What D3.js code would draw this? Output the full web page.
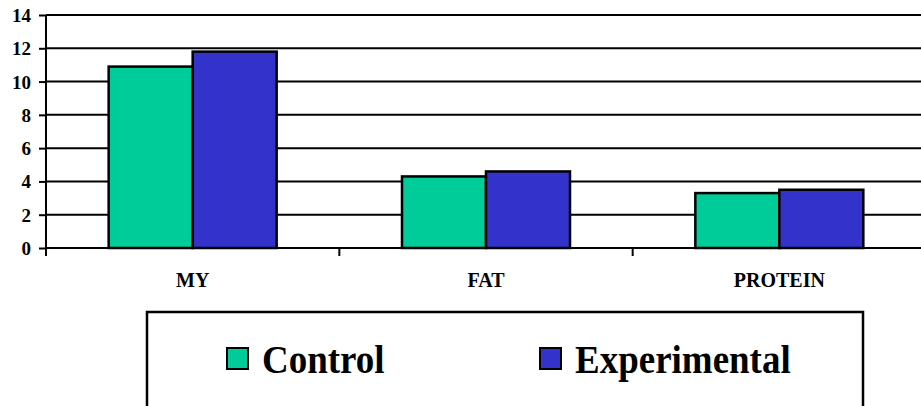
<!DOCTYPE html>
<html>
<head>
<meta charset="utf-8">
<script src="https://cdn.jsdelivr.net/npm/d3@7"></script>
</head>
<body style="margin:0;background:#fff">
<svg id="chart" width="921" height="406"></svg>
<script>
// Data
const categories = ["MY", "FAT", "PROTEIN"];
const seriesNames = ["Control", "Experimental"];
const controlValues = [10.9, 4.3, 3.3];
const experimentalValues = [11.8, 4.6, 3.5];
const yTicks = [0, 2, 4, 6, 8, 10, 12, 14];
const seriesColors = ["#00CC99", "#3333CC"];

const FONT = "'Liberation Serif', 'Times New Roman', serif";

const svg = d3.select("#chart");
const plot = { left: 46, right: 926, top: 15, bottom: 248 };

const x = d3.scaleBand().domain(categories).range([plot.left, plot.right]).padding(0);
const barW = 84;
const xs = d3.scaleBand().domain(seriesNames)
  .range([x.bandwidth() / 2 - barW, x.bandwidth() / 2 + barW]).padding(0);
const y = d3.scaleLinear().domain([0, 14]).range([plot.bottom, plot.top]);

// Horizontal gridlines
svg.append("g").selectAll("line").data(yTicks.filter(d => d > 0)).join("line")
  .attr("x1", plot.left).attr("x2", 921)
  .attr("y1", d => y(d)).attr("y2", d => y(d))
  .attr("stroke", "#000").attr("stroke-width", 2);

// Bars
const rows = categories.map((c, i) => ({ cat: c, vals: [controlValues[i], experimentalValues[i]] }));
const groups = svg.append("g").selectAll("g").data(rows).join("g")
  .attr("transform", d => `translate(${x(d.cat)},0)`);
groups.selectAll("rect")
  .data(d => d.vals.map((v, j) => ({ name: seriesNames[j], v, color: seriesColors[j] })))
  .join("rect")
  .attr("x", d => xs(d.name))
  .attr("width", xs.bandwidth())
  .attr("y", d => y(d.v))
  .attr("height", d => y(0) - y(d.v))
  .attr("fill", d => d.color)
  .attr("stroke", "#000").attr("stroke-width", 2.5);

// Y axis
const yAxis = svg.append("g").attr("transform", `translate(${plot.left},0)`)
  .call(d3.axisLeft(y).tickValues(yTicks).tickSize(7).tickPadding(8).tickFormat(d3.format("d")));
yAxis.attr("font-family", FONT).attr("font-size", 19).attr("font-weight", "bold");
yAxis.select(".domain").remove();
yAxis.selectAll(".tick line").attr("stroke", "#000").attr("stroke-width", 2);
yAxis.selectAll(".tick text")
  .style("font-family", FONT).style("font-weight", "bold").style("font-size", "19px")
  .attr("fill", "#000").attr("dy", "0.34em");
svg.append("line")
  .attr("x1", plot.left).attr("x2", plot.left)
  .attr("y1", plot.top).attr("y2", plot.bottom + 8)
  .attr("stroke", "#000").attr("stroke-width", 2);

// X axis
svg.append("line")
  .attr("x1", plot.left).attr("x2", 921)
  .attr("y1", plot.bottom).attr("y2", plot.bottom)
  .attr("stroke", "#000").attr("stroke-width", 2);
const xAxis = svg.append("g").attr("transform", `translate(0,${plot.bottom})`)
  .call(d3.axisBottom(x).tickSize(0).tickPadding(0));
xAxis.attr("font-family", FONT).attr("font-size", 20).attr("font-weight", "bold");
xAxis.select(".domain").remove();
xAxis.selectAll(".tick text").attr("y", 39).attr("dy", 0)
  .style("font-family", FONT).style("font-weight", "bold").style("font-size", "20px")
  .attr("fill", "#000");
svg.append("g").selectAll("line").data(categories.slice(1)).join("line")
  .attr("x1", d => x(d)).attr("x2", d => x(d))
  .attr("y1", plot.bottom).attr("y2", plot.bottom + 8)
  .attr("stroke", "#000").attr("stroke-width", 2);

// Legend
svg.append("rect")
  .attr("x", 147).attr("y", 312).attr("width", 716).attr("height", 120)
  .attr("fill", "none").attr("stroke", "#000").attr("stroke-width", 2.5);
const legendX = [227, 540];
const legend = svg.append("g").selectAll("g").data(seriesNames).join("g")
  .attr("transform", (d, i) => `translate(${legendX[i]},348)`);
legend.append("rect")
  .attr("width", 21).attr("height", 21)
  .attr("fill", (d, i) => seriesColors[i])
  .attr("stroke", "#000").attr("stroke-width", 2);
legend.append("text")
  .attr("transform", "translate(35,25) scale(1,1.1)")
  .style("font-family", FONT).style("font-weight", "bold").style("font-size", "37px")
  .attr("fill", "#000")
  .text(d => d);
</script>
</body>
</html>
